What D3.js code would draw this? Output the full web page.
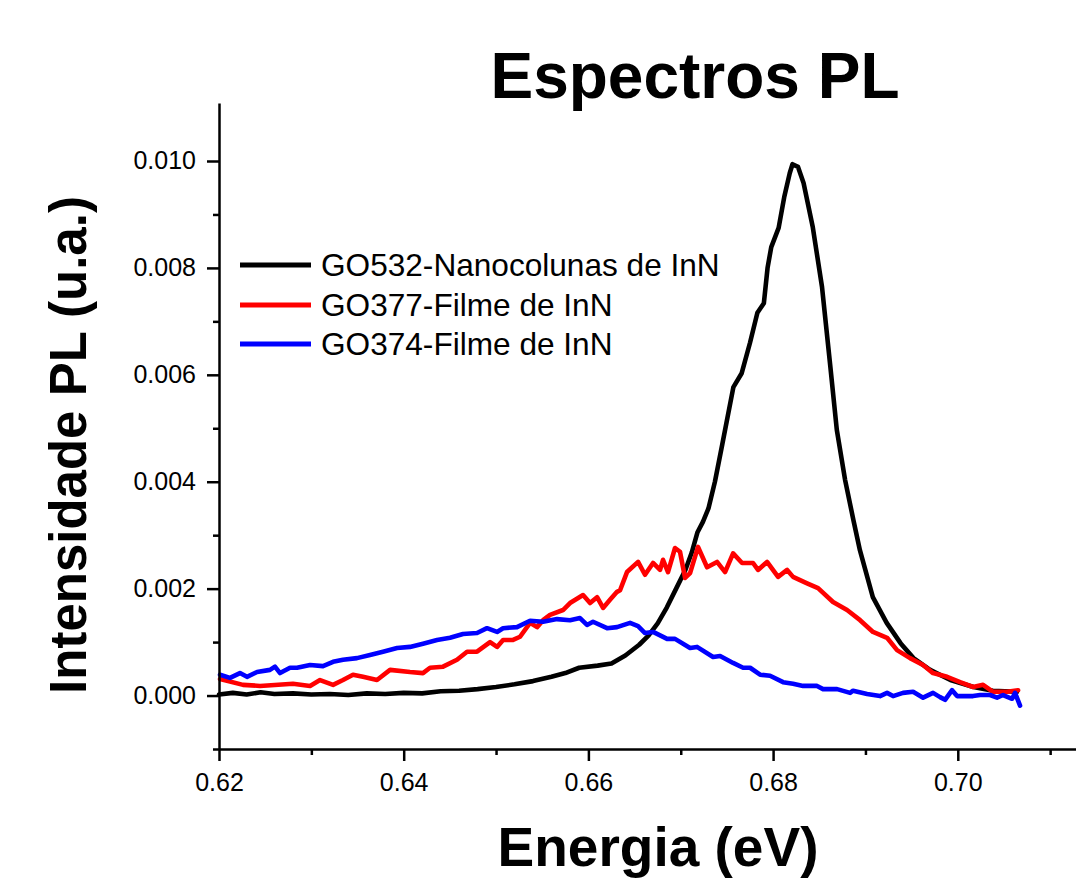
<!DOCTYPE html>
<html>
<head>
<meta charset="utf-8">
<script src="https://cdn.jsdelivr.net/npm/d3@7"></script>
<style>
  html, body { margin: 0; padding: 0; background: #fff; }
  svg { display: block; }
  text { font-family: "Liberation Sans", Arial, Helvetica, sans-serif; fill: #000; }
</style>
</head>
<body>
<svg id="chart" width="1076" height="881"></svg>
<script>
// ---------------- data ----------------
const chartTitle = "Espectros PL";
const xTitle = "Energia (eV)";
const yTitle = "Intensidade PL (u.a.)";
const seriesNames = ["GO532-Nanocolunas de InN", "GO377-Filme de InN", "GO374-Filme de InN"];
const seriesColors = ["#000000", "#ff0000", "#0000ff"];

const xMajorTicks = [0.62, 0.64, 0.66, 0.68, 0.70];
const xMinorTicks = [0.63, 0.65, 0.67, 0.69, 0.71];
const yMajorTicks = [0.000, 0.002, 0.004, 0.006, 0.008, 0.010];
const yMinorTicks = [-0.001, 0.001, 0.003, 0.005, 0.007, 0.009];

// GO532 (black)
const energiaGO532 = [0.6200,0.6215,0.6230,0.6245,0.6260,0.6280,0.6300,0.6320,0.6340,0.6360,0.6380,0.6400,0.6420,0.6440,0.6460,0.6480,0.6500,0.6520,0.6540,0.6560,0.6575,0.6590,0.6610,0.6625,0.6640,0.6655,0.6665,0.6675,0.6685,0.6695,0.6705,0.6712,0.6718,0.6724,0.6730,0.6737,0.6745,0.6757,0.6766,0.6775,0.6783,0.6790,0.6794,0.6798,0.6806,0.6812,0.6818,0.6821,0.6827,0.6833,0.6843,0.6853,0.6862,0.6869,0.6878,0.6887,0.6894,0.6908,0.6923,0.6938,0.6952,0.6970,0.6992,0.7017,0.7038,0.7064];
const intensGO532 = [0.00002,0.00005,0.00002,0.00006,0.00003,0.00004,0.00002,0.00003,0.00001,0.00004,0.00003,0.00005,0.00004,0.00008,0.00009,0.00012,0.00016,0.00021,0.00027,0.00035,0.00042,0.00052,0.00056,0.00060,0.00075,0.00095,0.00112,0.00135,0.00165,0.00200,0.00235,0.00268,0.00305,0.00325,0.00350,0.00400,0.00470,0.00577,0.00603,0.00660,0.00716,0.00734,0.00800,0.00839,0.00875,0.00932,0.00977,0.00994,0.00989,0.00959,0.00876,0.00764,0.00615,0.00497,0.00403,0.00328,0.00272,0.00184,0.00136,0.00098,0.00070,0.00048,0.00029,0.00016,0.00009,0.00007];

// GO377 (red)
const energiaGO377 = [0.62011,0.62260,0.62444,0.62801,0.62986,0.63094,0.63235,0.63343,0.63451,0.63559,0.63711,0.63852,0.64068,0.64209,0.64285,0.64426,0.64577,0.64686,0.64794,0.64935,0.65011,0.65076,0.65184,0.65260,0.65368,0.65444,0.65509,0.65585,0.65725,0.65801,0.65942,0.66018,0.66094,0.66159,0.66234,0.66310,0.66343,0.66418,0.66538,0.66613,0.66700,0.66776,0.66808,0.66862,0.66938,0.66992,0.67047,0.67101,0.67187,0.67285,0.67393,0.67480,0.67567,0.67664,0.67783,0.67837,0.67935,0.68054,0.68152,0.68216,0.68368,0.68487,0.68649,0.68801,0.68942,0.69082,0.69234,0.69342,0.69483,0.69624,0.69732,0.69884,0.70025,0.70165,0.70274,0.70382,0.70534,0.70653];
const intensGO377 = [0.00031,0.00020,0.00018,0.00022,0.00018,0.00029,0.00020,0.00029,0.00039,0.00035,0.00029,0.00048,0.00044,0.00042,0.00052,0.00054,0.00067,0.00082,0.00082,0.00100,0.00091,0.00104,0.00104,0.00110,0.00136,0.00128,0.00141,0.00151,0.00160,0.00173,0.00188,0.00173,0.00184,0.00164,0.00179,0.00194,0.00197,0.00231,0.00250,0.00226,0.00248,0.00235,0.00254,0.00231,0.00276,0.00269,0.00220,0.00229,0.00278,0.00240,0.00250,0.00231,0.00266,0.00248,0.00248,0.00235,0.00250,0.00222,0.00235,0.00222,0.00210,0.00201,0.00175,0.00160,0.00141,0.00119,0.00108,0.00085,0.00070,0.00057,0.00042,0.00035,0.00025,0.00016,0.00020,0.00007,0.00007,0.00010];

// GO374 (blue)
const energiaGO374 = [0.62011,0.62119,0.62227,0.62303,0.62412,0.62552,0.62606,0.62661,0.62769,0.62845,0.62986,0.63126,0.63235,0.63343,0.63494,0.63635,0.63776,0.63928,0.64068,0.64209,0.64361,0.64502,0.64642,0.64794,0.64902,0.65011,0.65076,0.65227,0.65368,0.65509,0.65660,0.65801,0.65909,0.65985,0.66050,0.66202,0.66310,0.66451,0.66538,0.66613,0.66700,0.66852,0.66938,0.67101,0.67176,0.67350,0.67426,0.67567,0.67675,0.67751,0.67859,0.67967,0.68108,0.68216,0.68325,0.68476,0.68541,0.68693,0.68834,0.68866,0.69018,0.69158,0.69234,0.69299,0.69407,0.69516,0.69624,0.69732,0.69808,0.69862,0.69938,0.69992,0.70165,0.70241,0.70350,0.70425,0.70490,0.70588,0.70620,0.70674];
const intensGO374 = [0.00039,0.00033,0.00042,0.00035,0.00044,0.00048,0.00054,0.00042,0.00052,0.00052,0.00057,0.00055,0.00063,0.00067,0.00070,0.00076,0.00082,0.00089,0.00091,0.00097,0.00104,0.00108,0.00115,0.00117,0.00126,0.00119,0.00126,0.00128,0.00140,0.00138,0.00143,0.00141,0.00145,0.00132,0.00138,0.00126,0.00128,0.00136,0.00130,0.00117,0.00119,0.00106,0.00106,0.00089,0.00091,0.00072,0.00074,0.00061,0.00052,0.00052,0.00039,0.00037,0.00025,0.00022,0.00018,0.00018,0.00012,0.00012,0.00005,0.00009,0.00003,-0.00001,0.00005,-0.00001,0.00005,0.00007,-0.00004,0.00005,-0.00003,-0.00008,0.00010,-0.00001,-0.00001,0.00001,0.00001,-0.00004,0.00001,-0.00006,0.00005,-0.00019];

const allSeries = [
  { name: seriesNames[0], color: seriesColors[0], xs: energiaGO532, ys: intensGO532 },
  { name: seriesNames[1], color: seriesColors[1], xs: energiaGO377, ys: intensGO377 },
  { name: seriesNames[2], color: seriesColors[2], xs: energiaGO374, ys: intensGO374 }
];

// ---------------- layout ----------------
const svg = d3.select("#chart");
const x = d3.scaleLinear().domain([0.62, 0.7128]).range([219, 1076]);
const y = d3.scaleLinear().domain([-0.001, 0.011085]).range([749, 103]);
const axisY0 = 749, axisX0 = 219;

const FONT_TICK = 25;

// curves
const line = d3.line().x(d => x(d[0])).y(d => y(d[1]));
const gLines = svg.append("g");
allSeries.forEach(s => {
  gLines.append("path")
    .datum(s.xs.map((v, i) => [v, s.ys[i]]))
    .attr("d", line)
    .attr("fill", "none")
    .attr("stroke", s.color)
    .attr("stroke-width", 4.6)
    .attr("stroke-linejoin", "round")
    .attr("stroke-linecap", "round");
});

// x axis
const xAxisMajor = d3.axisBottom(x).tickValues(xMajorTicks).tickFormat(d3.format(".2f"))
  .tickSize(12).tickSizeOuter(0).tickPadding(12);
const gx = svg.append("g").attr("transform", `translate(0,${axisY0})`).call(xAxisMajor);
const gxm = svg.append("g").attr("transform", `translate(0,${axisY0})`)
  .call(d3.axisBottom(x).tickValues(xMinorTicks).tickFormat("").tickSize(6).tickSizeOuter(0));
gxm.select(".domain").remove();

// y axis
const yAxisMajor = d3.axisLeft(y).tickValues(yMajorTicks).tickFormat(d3.format(".3f"))
  .tickSize(12).tickSizeOuter(0).tickPadding(11);
const gy = svg.append("g").attr("transform", `translate(${axisX0},0)`).call(yAxisMajor);
const gym = svg.append("g").attr("transform", `translate(${axisX0},0)`)
  .call(d3.axisLeft(y).tickValues(yMinorTicks).tickFormat("").tickSize(6).tickSizeOuter(0));
gym.select(".domain").remove();

[gx, gxm, gy, gym].forEach(g => {
  g.selectAll(".domain, line").attr("stroke", "#000").attr("stroke-width", 2.5);
  g.selectAll("text")
    .style("font-family", '"Liberation Sans", Arial, sans-serif')
    .style("font-size", FONT_TICK + "px")
    .attr("fill", "#000");
});

// titles
svg.append("text")
  .attr("x", 695).attr("y", 98)
  .attr("text-anchor", "middle")
  .style("font-size", "64px").style("font-weight", "bold")
  .text(chartTitle);

svg.append("text")
  .attr("x", 658).attr("y", 866)
  .attr("text-anchor", "middle")
  .style("font-size", "55px").style("font-weight", "bold")
  .text(xTitle);

svg.append("text")
  .attr("transform", "translate(86,445) rotate(-90)")
  .attr("text-anchor", "middle")
  .style("font-size", "51px").style("font-weight", "bold")
  .text(yTitle);

// legend
const legendY = [265, 305, 344];
const gLeg = svg.append("g");
allSeries.forEach((s, i) => {
  gLeg.append("line")
    .attr("x1", 240).attr("x2", 311)
    .attr("y1", legendY[i]).attr("y2", legendY[i])
    .attr("stroke", s.color).attr("stroke-width", 4.8);
  gLeg.append("text")
    .attr("x", 321).attr("y", legendY[i])
    .attr("dy", "0.36em")
    .style("font-size", "31.6px")
    .text(s.name);
});
</script>
</body>
</html>
